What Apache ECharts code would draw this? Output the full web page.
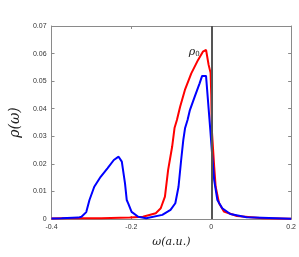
<!DOCTYPE html>
<html><head><meta charset="utf-8">
<script src="https://cdn.jsdelivr.net/npm/echarts@6/dist/echarts.min.js"></script>
<style>html,body{margin:0;padding:0;background:#fff}#c{width:299px;height:257px}</style>
</head><body><div id="c"></div>
<script>
const xTicks = [-0.4, -0.2, 0, 0.2];
const yTicks = [0, 0.01, 0.02, 0.03, 0.04, 0.05, 0.06, 0.07];
const redOmega = [-0.4, -0.374, -0.276, -0.204, -0.171, -0.139, -0.1265, -0.116, -0.108, -0.098, -0.092, -0.086, -0.078, -0.066, -0.05, -0.033, -0.021, -0.013, -0.0066, -0.0017, 0.0, 0.0015, 0.0073, 0.011, 0.0195, 0.0316, 0.064, 0.129, 0.2];
const redRho = [0.0002, 0.0003, 0.0003, 0.0005, 0.0008, 0.0021, 0.0039, 0.0081, 0.0178, 0.0262, 0.033, 0.0359, 0.0407, 0.0468, 0.0528, 0.0577, 0.0607, 0.0613, 0.0559, 0.053, 0.045, 0.0322, 0.019, 0.0117, 0.0057, 0.0027, 0.0011, 0.0003, 0.0001];
const blueOmega = [-0.4, -0.3745, -0.333, -0.325, -0.313, -0.305, -0.293, -0.277, -0.26, -0.244, -0.232, -0.224, -0.216, -0.2117, -0.208, -0.1995, -0.183, -0.163, -0.1226, -0.102, -0.09, -0.082, -0.0754, -0.07, -0.0657, -0.0594, -0.0535, -0.0414, -0.0292, -0.0229, -0.0131, -0.0024, 0.0032, 0.0073, 0.0153, 0.0275, 0.0477, 0.0883, 0.2];
const blueRho = [0.0002, 0.0003, 0.0005, 0.0008, 0.0025, 0.0069, 0.0117, 0.0153, 0.0184, 0.0214, 0.0226, 0.0208, 0.0129, 0.0069, 0.0057, 0.0026, 0.0008, 0.0003, 0.0015, 0.0033, 0.0057, 0.0117, 0.0214, 0.0287, 0.0329, 0.0359, 0.0395, 0.0444, 0.0492, 0.0519, 0.0519, 0.0323, 0.0214, 0.0141, 0.0069, 0.0039, 0.0018, 0.0006, 0.0001];
const peakLabel = {omega: -0.024, rho: 0.0607, text: 'ρ0'};

const chart = echarts.init(document.getElementById('c'), null, {renderer: 'canvas'});
const axisCol = '#8a8a8a';
const lblStyle = {color: '#333', fontSize: 7, fontFamily: 'Liberation Sans'};
const zip = (a, b) => a.map((v, i) => [v, b[i]]);
chart.setOption({
  animation: false,
  grid: {left: 49.5, right: 3, top: 26, bottom: 38, containLabel: false},
  xAxis: [{
    type: 'value', min: xTicks[0], max: xTicks[xTicks.length - 1], interval: 0.2,
    axisLine: {show: true, onZero: false, lineStyle: {color: axisCol, width: 1}},
    axisTick: {show: true, inside: true, length: 3, lineStyle: {color: axisCol}},
    axisLabel: Object.assign({margin: 5, formatter: v => (Math.abs(v) < 1e-9 ? '0' : String(+v.toFixed(2)))}, lblStyle),
    splitLine: {show: false},
    name: 'ω(a.u.)', nameLocation: 'middle', nameGap: 18,
    nameTextStyle: {fontFamily: 'DejaVu Serif', fontStyle: 'italic', fontSize: 11, color: '#222'}
  }, {
    type: 'value', position: 'top', min: xTicks[0], max: xTicks[xTicks.length - 1], interval: 0.2,
    axisLine: {show: true, onZero: false, lineStyle: {color: axisCol, width: 1}},
    axisTick: {show: true, inside: true, length: 3, lineStyle: {color: axisCol}},
    axisLabel: {show: false}, splitLine: {show: false}
  }],
  yAxis: [{
    type: 'value', min: yTicks[0], max: yTicks[yTicks.length - 1], interval: 0.01,
    axisLine: {show: true, onZero: false, lineStyle: {color: axisCol, width: 1}},
    axisTick: {show: true, inside: true, length: 3, lineStyle: {color: axisCol}},
    axisLabel: Object.assign({margin: 5, formatter: v => (Math.abs(v) < 1e-9 ? '0' : String(+v.toFixed(2)))}, lblStyle),
    splitLine: {show: false},
    name: 'ρ(ω)', nameLocation: 'middle', nameGap: 27, nameRotate: 90,
    nameTextStyle: {fontFamily: 'DejaVu Serif', fontStyle: 'italic', fontSize: 14, color: '#222'}
  }, {
    type: 'value', position: 'right', min: yTicks[0], max: yTicks[yTicks.length - 1], interval: 0.01,
    axisLine: {show: true, onZero: false, lineStyle: {color: axisCol, width: 1}},
    axisTick: {show: true, inside: true, length: 3, lineStyle: {color: axisCol}},
    axisLabel: {show: false}, splitLine: {show: false}
  }],
  series: [{
    type: 'line', data: zip(redOmega, redRho), symbol: 'none', smooth: false,
    lineStyle: {color: '#ff0000', width: 2}, z: 3,
    markPoint: {
      symbol: 'circle', symbolSize: 0, silent: true,
      data: [{coord: [peakLabel.omega, peakLabel.rho]}],
      label: {show: true, position: 'left', distance: 2, formatter: '{a|ρ}{b|0}',
        rich: {a: {fontFamily: 'DejaVu Serif', fontStyle: 'italic', fontSize: 11, color: '#222'},
               b: {fontFamily: 'DejaVu Serif', fontSize: 7, color: '#222', verticalAlign: 'bottom', padding: [6, 0, 0, 0]}}}
    }
  }, {
    type: 'line', data: zip(blueOmega, blueRho), symbol: 'none', smooth: false,
    lineStyle: {color: '#0000ff', width: 2}, z: 4
  }, {
    type: 'line', data: [], symbol: 'none', z: 5,
    markLine: {silent: true, symbol: ['none', 'none'], label: {show: false},
      lineStyle: {color: '#555', width: 2, type: 'solid'},
      data: [{xAxis: 0}]}
  }]
});
</script></body></html>
